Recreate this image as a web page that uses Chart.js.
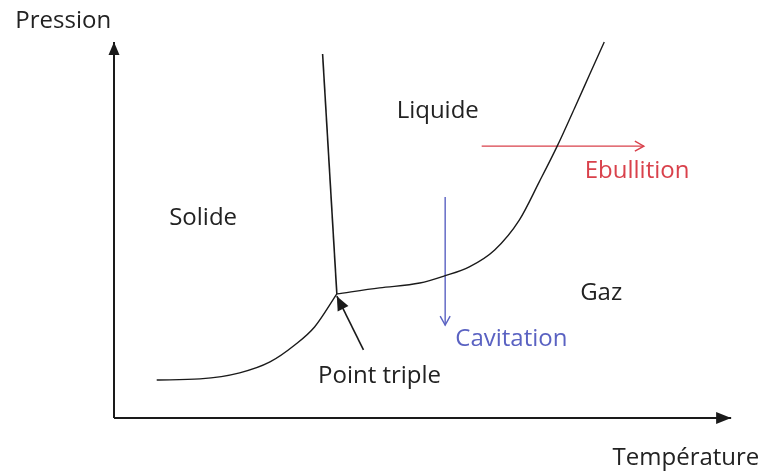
<!DOCTYPE html>
<html>
<head>
<meta charset="utf-8">
<script src="https://cdn.jsdelivr.net/npm/chart.js@4"></script>
<style>
  body { margin: 0; background: #fff; }
  #wrap { width: 769px; height: 475px; }
</style>
</head>
<body>
<div id="wrap"><canvas id="phaseChart"></canvas></div>
<script>
// curves (x = temperature, y = pressure, arbitrary units 0..100)
const sublimationT = [6.9, 13.9, 20.3, 25.2, 29.2, 32.4, 36.0];
const sublimationP = [10.1, 10.4, 12.0, 14.9, 19.4, 24.2, 33.0];

const fusionT = [36.0, 33.7];
const fusionP = [33.0, 96.8];

const vaporT = [36.0, 42.9, 49.4, 53.4, 57.4, 61.5, 65.5, 68.7, 71.6, 74.4, 76.8, 79.2];
const vaporP = [33.0, 34.6, 35.9, 37.8, 40.2, 44.7, 52.7, 62.8, 72.3, 82.4, 91.2, 100.0];

const ebullitionT = [59.4, 85.6];
const ebullitionP = [72.3, 72.3];

const cavitationT = [53.5, 53.5];
const cavitationP = [58.8, 24.7];

const tripleArrowT = [40.3, 36.0];
const tripleArrowP = [18.1, 32.4];

const axisXT = [0, 99.7];
const axisXP = [0, 0];
const axisYT = [0, 0];
const axisYP = [0, 100];

// text labels, anchored at centre / baseline
const labels = [
    { text: 'Pression', t: -8.2, p: 103.7, color: '#222' },
    { text: 'Liquide', t: 52.3, p: 79.8, color: '#222' },
    { text: 'Solide', t: 14.4, p: 51.3, color: '#222' },
    { text: 'Gaz', t: 78.7, p: 31.4, color: '#222' },
    { text: 'Ebullition', t: 84.5, p: 63.8, color: '#d9414b' },
    { text: 'Cavitation', t: 64.2, p: 19.1, color: '#5a62c2' },
    { text: 'Point triple', t: 42.9, p: 9.3, color: '#222' },
    { text: 'Température', t: 92.4, p: -12.5, color: '#222' }
];

function pts(xs, ys) {
    return xs.map(function(x, i) { return { x: x, y: ys[i] }; });
}

function line(data, color, width, extra) {
    return Object.assign({
        data: data,
        showLine: true,
        borderColor: color,
        borderWidth: width,
        pointRadius: 0,
        fill: false,
        clip: false
    }, extra || {});
}

const ink = '#1a1a1a';

const datasets = [
    line(pts(axisXT, axisXP), ink, 2),
    line(pts(axisYT, axisYP), ink, 2),
    line(pts(sublimationT, sublimationP), ink, 1.4, { cubicInterpolationMode: 'monotone' }),
    line(pts(fusionT, fusionP), ink, 1.6),
    line(pts(vaporT, vaporP), ink, 1.4, { cubicInterpolationMode: 'monotone' }),
    line(pts(ebullitionT, ebullitionP), '#d9414b', 1.4),
    line(pts(cavitationT, cavitationP), '#5a62c2', 1.4),
    line(pts(tripleArrowT, tripleArrowP), ink, 1.6)
];

// arrow heads: dataset index, filled?, length, half width
const heads = [
    { ds: 0, filled: true, len: 15, half: 6 },
    { ds: 1, filled: true, len: 13, half: 5.5 },
    { ds: 5, filled: false, len: 9, half: 5 },
    { ds: 6, filled: false, len: 9, half: 5 },
    { ds: 7, filled: true, len: 14, half: 6 }
];

const decorations = {
    id: 'decorations',
    afterDatasetsDraw(chart) {
        const c = chart.ctx;
        const xs = chart.scales.x;
        const ys = chart.scales.y;
        c.save();
        heads.forEach(function(h) {
            const d = chart.data.datasets[h.ds].data;
            const a = d[d.length - 2], b = d[d.length - 1];
            const x1 = xs.getPixelForValue(a.x), y1 = ys.getPixelForValue(a.y);
            const x2 = xs.getPixelForValue(b.x), y2 = ys.getPixelForValue(b.y);
            const ang = Math.atan2(y2 - y1, x2 - x1);
            const bx = x2 - h.len * Math.cos(ang), by = y2 - h.len * Math.sin(ang);
            const px = -Math.sin(ang) * h.half, py = Math.cos(ang) * h.half;
            const col = chart.data.datasets[h.ds].borderColor;
            c.beginPath();
            c.moveTo(bx + px, by + py);
            c.lineTo(x2, y2);
            c.lineTo(bx - px, by - py);
            if (h.filled) {
                c.closePath();
                c.fillStyle = col;
                c.fill();
            } else {
                c.strokeStyle = col;
                c.lineWidth = 1.4;
                c.stroke();
            }
        });
        c.font = '24px "Open Sans", sans-serif';
        c.textAlign = 'center';
        c.textBaseline = 'alphabetic';
        labels.forEach(function(l) {
            c.fillStyle = l.color;
            c.fillText(l.text, xs.getPixelForValue(l.t), ys.getPixelForValue(l.p));
        });
        c.restore();
    }
};

const ctx = document.getElementById('phaseChart').getContext('2d');
new Chart(ctx, {
    type: 'scatter',
    data: { datasets: datasets },
    options: {
        responsive: true,
        maintainAspectRatio: false,
        animation: false,
        layout: { padding: { left: 114, right: 36, top: 42, bottom: 57 } },
        scales: {
            x: { type: 'linear', min: 0, max: 100, display: false },
            y: { type: 'linear', min: 0, max: 100, display: false }
        },
        plugins: {
            legend: { display: false },
            tooltip: { enabled: false }
        }
    },
    plugins: [decorations]
});
</script>
</body>
</html>
